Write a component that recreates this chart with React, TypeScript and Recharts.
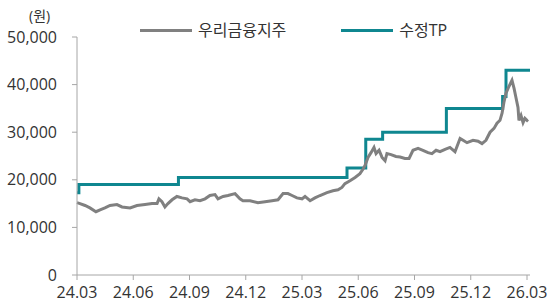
import React from "react"
import { LineChart, Line, XAxis, YAxis } from "recharts"

// months counted from 2024.03
const tickLabels = ["24.03", "24.06", "24.09", "24.12", "25.03", "25.06", "25.09", "25.12", "26.03"]
const tickMonths = [0, 3, 6, 9, 12, 15, 18, 21, 24]

const priceMonths = [
  0, 0.16, 0.43, 0.69, 1.01, 1.23, 1.49, 1.76, 2.13, 2.4, 2.83, 3.2, 3.63, 4.0, 4.27, 4.37, 4.53, 4.69,
  4.85, 5.07, 5.33, 5.6, 5.87, 6.03, 6.29, 6.56, 6.83, 7.09, 7.36, 7.52, 7.79, 8.05, 8.43, 8.69, 8.85,
  9.23, 9.65, 10.03, 10.4, 10.72, 10.99, 11.25, 11.47, 11.73, 12.0, 12.16, 12.43, 12.69, 12.96, 13.33,
  13.65, 13.92, 14.13, 14.29, 14.56, 14.83, 15.09, 15.25, 15.36, 15.52, 15.68, 15.84, 15.95, 16.11,
  16.27, 16.43, 16.53, 16.75, 17.01, 17.23, 17.49, 17.71, 17.92, 18.19, 18.45, 18.72, 18.93, 19.15,
  19.36, 19.63, 19.89, 20.16, 20.43, 20.59, 20.8, 21.12, 21.39, 21.6, 21.81, 22.03, 22.24, 22.4, 22.56,
  22.67, 22.77, 22.88, 22.99, 23.15, 23.2, 23.31, 23.41, 23.52, 23.57, 23.68, 23.79, 23.89, 24.0, 24.05,
]
const priceValues = [
  15200, 15000, 14600, 14100, 13300, 13700, 14100, 14600, 14800, 14300, 14100, 14600, 14800, 15000, 15000,
  16000, 15400, 14300, 15000, 15800, 16500, 16200, 16000, 15400, 15800, 15600, 16000, 16700, 16900, 16000,
  16500, 16700, 17100, 16000, 15600, 15600, 15200, 15400, 15600, 15800, 17100, 17100, 16700, 16200, 16000,
  16500, 15600, 16200, 16700, 17300, 17700, 17900, 18400, 19200, 19800, 20500, 21300, 22200, 23000, 24700,
  25700, 26800, 25500, 26200, 24700, 24000, 25500, 25300, 24900, 24800, 24500, 24500, 26200, 26600, 26200,
  25700, 25500, 26200, 25900, 26400, 26800, 25900, 28700, 28300, 27800, 28300, 28100, 27600, 28300, 30000,
  30800, 31900, 32500, 34000, 36300, 38200, 39200, 40500, 40900, 39200, 37300, 35200, 32500, 33500, 32000,
  32900, 32500, 32700,
]

const tpMonths = [0, 0.1, 5.41, 14.4, 15.4, 16.3, 19.7, 22.7, 22.88, 24.16]
const tpValues = [17300, 19000, 20500, 22500, 28500, 30000, 35000, 37500, 43000, 43000]

const priceData = priceMonths.map((t, i) => ({ t, price: priceValues[i] }))
const tpData = tpMonths.map((t, i) => ({ t, tp: tpValues[i] }))

const series = [
  { name: "우리금융지주", color: "#808080" },
  { name: "수정TP", color: "#0f8790" },
]

const FONT = "'Open Sans', 'Noto Sans CJK KR', sans-serif"
const TEXT = "#333"
const AXIS = "#a6a6a6"

const ChartLegend = () => (
  <div
    style={{
      position: "absolute", left: 140, top: 19, display: "flex", alignItems: "center",
      fontFamily: FONT, fontSize: 16, color: TEXT, lineHeight: "22px",
    }}
  >
    {series.map((s, i) => (
      <div key={s.name} style={{ display: "flex", alignItems: "center", marginRight: i === 0 ? 55 : 0 }}>
        <div style={{ width: 52, height: 3, background: s.color, marginRight: 6 }} />
        <span>{s.name}</span>
      </div>
    ))}
  </div>
)

const App = () => {
  return (
    <div style={{ position: "absolute", left: 0, top: 0, width: 549, height: 306, background: "#fff" }}>
      <span
        style={{
          position: "absolute", left: 29, top: 7, fontFamily: FONT, fontSize: 14, color: TEXT, lineHeight: "18px",
        }}
      >
        (원)
      </span>
      <ChartLegend />
      <LineChart width={549} height={306} margin={{ top: 37, right: 19, bottom: 0, left: 0 }}>
        <XAxis
          type="number"
          dataKey="t"
          domain={[0, 24.16]}
          ticks={tickMonths}
          tickFormatter={(v: number) => tickLabels[tickMonths.indexOf(v)] ?? ""}
          stroke={AXIS}
          tickSize={5}
          tickMargin={7}
          tick={{ fill: TEXT, fontSize: 16, fontFamily: FONT }}
          height={31}
        />
        <YAxis
          type="number"
          domain={[0, 50000]}
          ticks={[0, 10000, 20000, 30000, 40000, 50000]}
          tickFormatter={(v: number) => v.toLocaleString("en-US")}
          stroke={AXIS}
          tickSize={5}
          tickMargin={15}
          width={77}
          tick={{ fill: TEXT, fontSize: 16, fontFamily: FONT }}
        />
        <Line
          data={tpData}
          dataKey="tp"
          name={series[1].name}
          type="stepAfter"
          stroke={series[1].color}
          strokeWidth={3}
          dot={false}
          isAnimationActive={false}
        />
        <Line
          data={priceData}
          dataKey="price"
          name={series[0].name}
          stroke={series[0].color}
          strokeWidth={3}
          dot={false}
          isAnimationActive={false}
        />
      </LineChart>
    </div>
  )
}

export default App
